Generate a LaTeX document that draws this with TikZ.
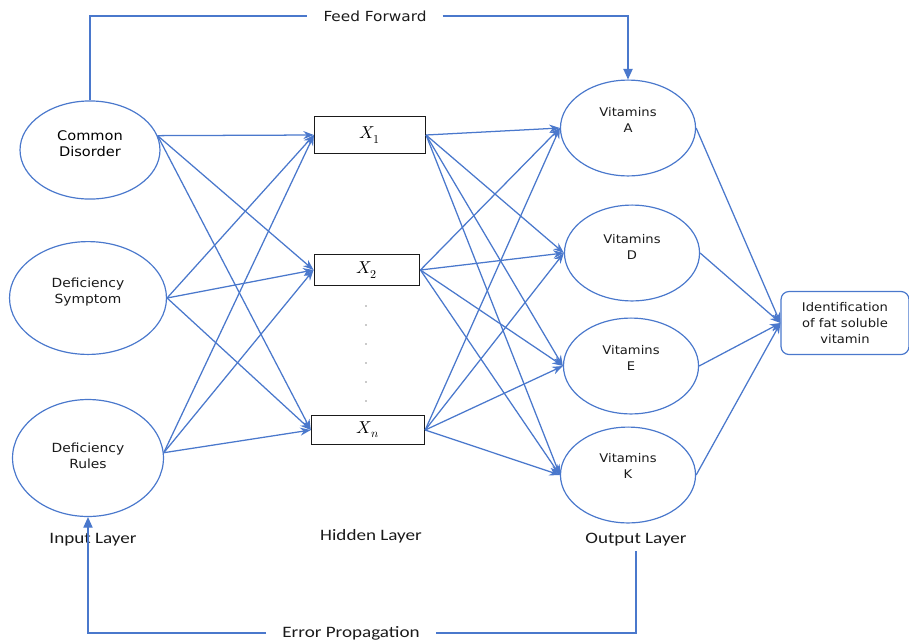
\documentclass[tikz,border=0pt]{standalone}
\usepackage{fontspec}
\usepackage{unicode-math}
\setmainfont{DejaVu Sans}[FakeStretch=1.1]
\setmathfont{Latin Modern Math}
\newfontfamily\layerfont{Carlito}[FakeStretch=1.2]
\usetikzlibrary{
  arrows.meta,
  positioning,
  shapes.geometric,
  calc
}
\definecolor{nnblue}{HTML}{4A78CC}
\definecolor{nnblack}{HTML}{1A1A1A}

\begin{document}
\begin{tikzpicture}[x=0.0265cm, y=-0.0265cm,
      unit/.style={
        ellipse, draw=nnblue, line width=0.9pt, inner sep=0pt
      },
      hidbox/.style={
        rectangle, draw=nnblack, line width=0.9pt,
        font=\fontsize{13}{15}\selectfont
      },
      ntext/.style={font=\fontsize{9}{12}\selectfont\color{nnblack}, align=center},
      intext/.style={ntext, font=\fontsize{9.5}{12}\selectfont\color{nnblack}},
      layer/.style={font=\layerfont\fontsize{12}{14}\selectfont\color{nnblack}},
      link/.style={-{Stealth[length=8pt, width=6pt]}, line width=0.95pt, nnblue},
      flow/.style={line width=0.95pt, nnblue}
    ]
      \useasboundingbox (0,0) rectangle (909,642);

      % input layer
      \node[unit, minimum width=3.71cm, minimum height=2.6cm,
        label={[ntext, font=\fontsize{10}{12}\selectfont, yshift=5pt]center:Common\\Disorder}] (cd) at (90,150) {};
      \node[unit, minimum width=4.16cm, minimum height=2.99cm,
        label={[intext, yshift=4.5pt]center:Deficiency\\Symptom}] (ds) at (88,298) {};
      \node[unit, minimum width=4cm, minimum height=3.1cm,
        label={[intext, yshift=2pt]center:Deficiency\\Rules}] (dr) at (88,458) {};

      % hidden layer
      \node[hidbox, minimum width=2.94cm, minimum height=1cm] (x1) at (370,135) {$X_1$};
      \node[hidbox, minimum width=2.8cm, minimum height=0.82cm] (x2) at (367,270) {$X_2$};
      \node[hidbox, minimum width=3cm, minimum height=0.77cm] (xn) at (368,430) {$X_n$};
      \foreach \i in {0,...,5}
        \fill[nnblack] (366,306+19*\i) circle (0.55pt);

      % output layer
      \node[unit, minimum width=3.58cm, minimum height=2.54cm,
        label={[ntext, yshift=6pt]center:Vitamins\\A}] (va) at (628,128) {};
      \node[unit, minimum width=3.58cm, minimum height=2.54cm,
        label={[ntext, yshift=4.5pt]center:Vitamins\\D}] (vd) at (632,253) {};
      \node[unit, minimum width=3.58cm, minimum height=2.54cm,
        label={[ntext, yshift=6pt]center:Vitamins\\E}] (ve) at (631,366) {};
      \node[unit, minimum width=3.58cm, minimum height=2.54cm,
        label={[ntext, yshift=7pt]center:Vitamins\\K}] (vk) at (628,475) {};

      \node[rectangle, rounded corners=6pt, draw=nnblue, line width=0.9pt,
        minimum width=3.39cm, minimum height=1.67cm, ntext] (fin) at (845,323)
        {Identification\\of fat soluble\\vitamin};

      % connections
      \foreach \s/\a in {cd/12,ds/0,dr/4}
        \foreach \t in {x1,x2,xn}
          \draw[link] (\s.\a) -- (\t.west);
      \foreach \s in {x1,x2,xn}
        \foreach \t in {va,vd,ve,vk}
          \draw[link] (\s.east) -- (\t.west);
      \foreach \s in {va,vd,ve,vk}
        \draw[link] (\s.east) -- (fin.west);

      % layer labels
      \node[layer] (inl) at (93,540) {Input Layer};
      \node[layer] (hidl) at (371,536) {Hidden Layer};
      \node[layer] (outl) at (636,540) {Output Layer};

      % feed forward and error propagation
      \node[font=\fontsize{10.5}{12}\selectfont\color{nnblack}, inner xsep=12pt] (ff) at (375,16) {Feed Forward};
      \draw[flow] (cd.north) |- (ff.west);
      \draw[flow, -{Triangle[length=8pt, width=7pt]}] (ff.east) -| (va.north);

      \node[layer, inner xsep=12pt] (ep) at (351,633) {Error Propagation};
      \draw[flow] (outl.south) |- (ep.east);
      \draw[flow, -{Triangle[length=8pt, width=7pt]}] (ep.west) -| (dr.south);
    \end{tikzpicture}
\end{document}
